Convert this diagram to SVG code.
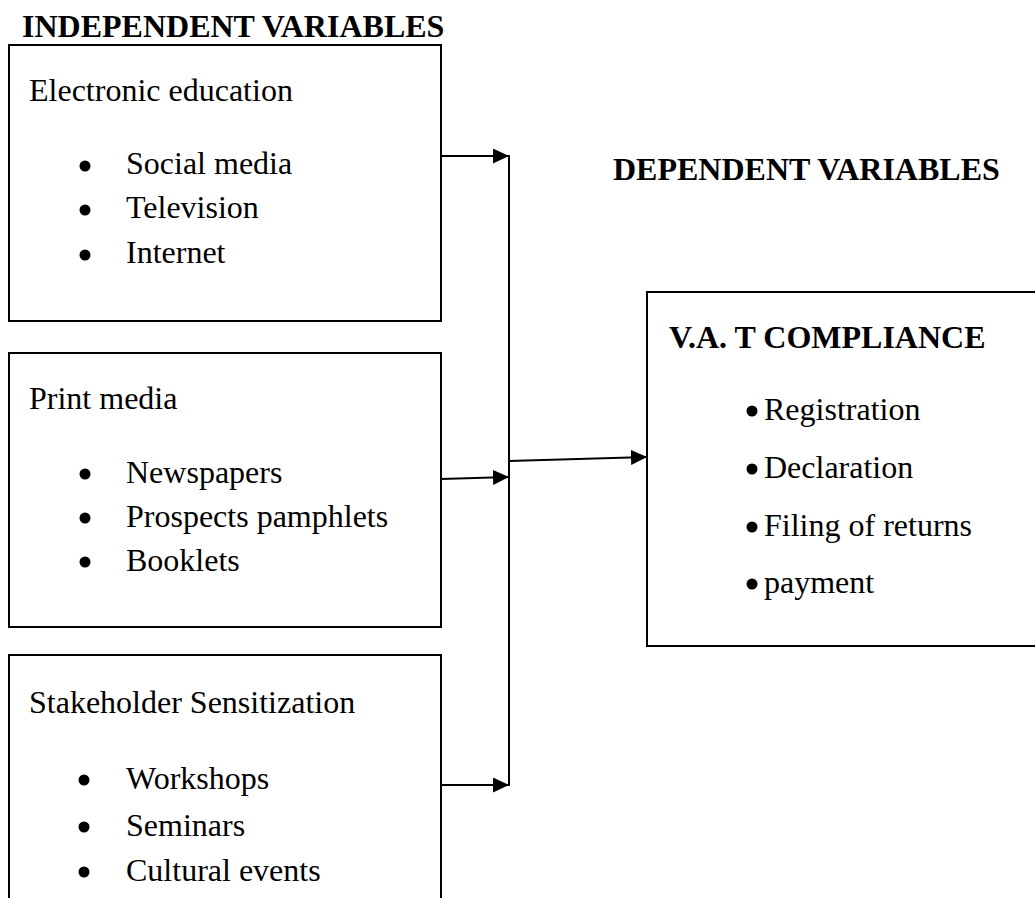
<svg xmlns="http://www.w3.org/2000/svg" width="1035" height="898" viewBox="0 0 1035 898">
<style>
text{font-family:"Liberation Serif","Times New Roman",serif;font-size:32px;fill:#000}
.b{font-weight:bold}
.box{fill:#fff;stroke:#000;stroke-width:2}
.con{fill:none;stroke:#000;stroke-width:2}
.dot{fill:#000}
</style>
<defs>
<marker id="ah" markerUnits="userSpaceOnUse" markerWidth="17" markerHeight="16" refX="16" refY="7.5" orient="auto">
<path d="M0,0 L16,7.5 L0,15 Z" fill="#000"/>
</marker>
</defs>
<rect width="1035" height="898" fill="#fff"/>
<text class="b" x="22" y="37">INDEPENDENT VARIABLES</text>
<text class="b" x="613" y="180">DEPENDENT VARIABLES</text>
<g id="node-electronic">
<rect class="box" x="9" y="45" width="432" height="276"/>
<text x="29" y="101">Electronic education</text>
<circle class="dot" cx="85" cy="166" r="5.5"/><text x="126" y="174">Social media</text>
<circle class="dot" cx="85" cy="210" r="5.5"/><text x="126" y="218">Television</text>
<circle class="dot" cx="85" cy="255" r="5.5"/><text x="126" y="263">Internet</text>
</g>
<g id="node-print">
<rect class="box" x="9" y="353" width="432" height="274"/>
<text x="29" y="409">Print media</text>
<circle class="dot" cx="85" cy="474" r="5.5"/><text x="126" y="483">Newspapers</text>
<circle class="dot" cx="85" cy="518" r="5.5"/><text x="126" y="527">Prospects pamphlets</text>
<circle class="dot" cx="85" cy="562" r="5.5"/><text x="126" y="571">Booklets</text>
</g>
<g id="node-stakeholder">
<rect class="box" x="9" y="655" width="432" height="260"/>
<text x="29" y="713">Stakeholder Sensitization</text>
<circle class="dot" cx="84" cy="780" r="5.5"/><text x="126" y="789">Workshops</text>
<circle class="dot" cx="84" cy="827" r="5.5"/><text x="126" y="836">Seminars</text>
<circle class="dot" cx="84" cy="872" r="5.5"/><text x="126" y="881">Cultural events</text>
</g>
<g id="node-vat">
<rect class="box" x="647" y="292" width="420" height="354"/>
<text class="b" x="669" y="348">V.A. T COMPLIANCE</text>
<circle class="dot" cx="752" cy="411" r="5.5"/><text x="764" y="420">Registration</text>
<circle class="dot" cx="752" cy="469" r="5.5"/><text x="764" y="478">Declaration</text>
<circle class="dot" cx="752" cy="527" r="5.5"/><text x="764" y="536">Filing of returns</text>
<circle class="dot" cx="752" cy="584" r="5.5"/><text x="764" y="593">payment</text>
</g>
<g id="connectors">
<line class="con" x1="509" y1="155" x2="509" y2="786"/>
<line class="con" x1="441" y1="156" x2="509" y2="156" marker-end="url(#ah)"/>
<line class="con" x1="441" y1="479" x2="509" y2="477" marker-end="url(#ah)"/>
<line class="con" x1="441" y1="785" x2="509" y2="785" marker-end="url(#ah)"/>
<line class="con" x1="509" y1="461" x2="647" y2="457" marker-end="url(#ah)"/>
</g>
</svg>
